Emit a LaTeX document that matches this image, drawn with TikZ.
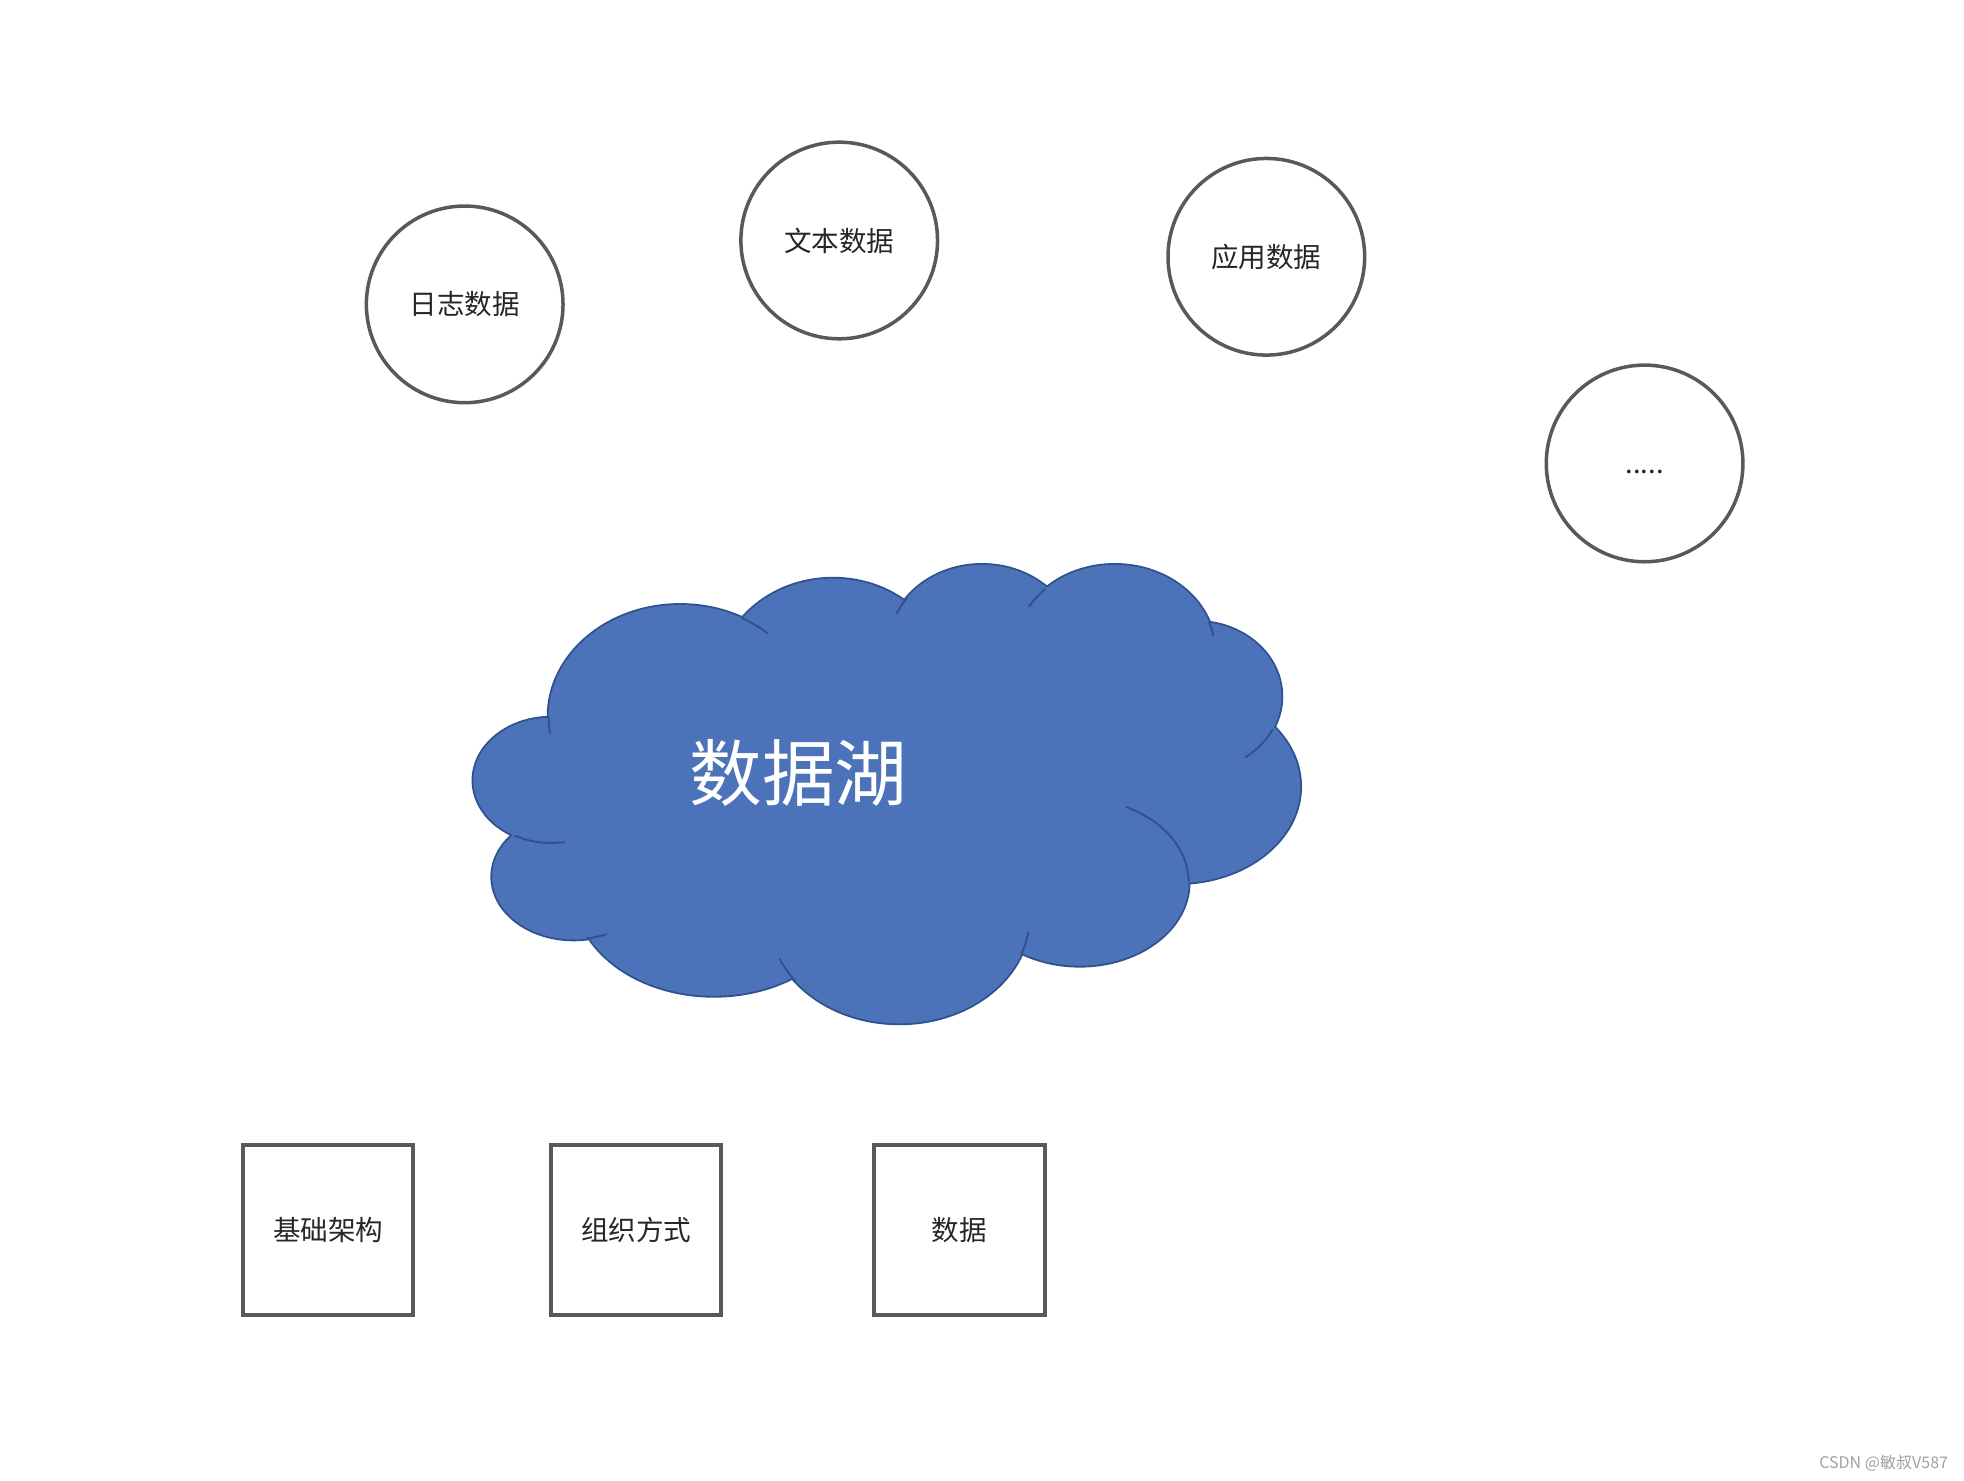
\documentclass[tikz,border=0pt]{standalone}
\usepackage{fontspec}
\setmainfont{Noto Sans CJK SC}
\usetikzlibrary{positioning}

\definecolor{lakeblue}{RGB}{76,114,186}
\definecolor{lakeline}{RGB}{47,82,143}
\definecolor{boxline}{RGB}{89,89,89}
\definecolor{labeltext}{RGB}{38,38,38}

\tikzset{every picture/.style={line width=0.75pt}}
\tikzset{
  source/.style={circle, draw=boxline, line width=1.4pt, minimum size=78.5pt, inner sep=0pt, text=labeltext, font=\fontsize{11}{13}\selectfont},
  part/.style={rectangle, draw=boxline, line width=1.6pt, minimum size=68pt, inner sep=0pt, text=labeltext, font=\fontsize{11}{13}\selectfont},
  cloudline/.style={draw=lakeline, line width=0.75pt},
}

\begin{document}
\begin{tikzpicture}[x=0.5pt,y=0.5pt,yscale=-1,xscale=1]
\useasboundingbox (0,0) rectangle (1568,1181.6);

%Shape: Cloud - lobes with outline
\foreach \cx/\cy/\rx/\ry in {543/572/105/89, 665/545/92/83, 784/515/74/64, 890/520/80/69, 955/556/68/59.5, 940/628/98/77, 862/704.5/87/66.5, 718/732/104/85, 570/712/111/83, 458/700/65/50, 440/623/62/50}
  \draw [cloudline, line width=1.5pt, fill=lakeblue] (\cx,\cy) ellipse [x radius=\rx, y radius=\ry];
%Shape: Cloud - fill over inner outlines
\foreach \cx/\cy/\rx/\ry in {543/572/105/89, 665/545/92/83, 784/515/74/64, 890/520/80/69, 955/556/68/59.5, 940/628/98/77, 862/704.5/87/66.5, 718/732/104/85, 570/712/111/83, 458/700/65/50, 440/623/62/50, 710/630/230/120}
  \fill [lakeblue] (\cx,\cy) ellipse [x radius=\rx, y radius=\ry];
%Shape: Cloud - inner arcs
\foreach \cx/\cy/\rx/\ry/\a/\b in {543/572/105/89/-62/-48, 543/572/105/89/180/171, 784/515/74/64/216/203, 890/520/80/69/226/211, 890/520/80/69/-20/-10, 955/556/68/59.5/26/55, 862/704.5/87/66.5/0/-65, 718/732/104/85/21/8, 718/732/104/85/143/157, 458/700/65/50/81/66, 440/623/62/50/118/80}
  \draw [cloudline] (\cx,\cy) ++({\a}:{\rx} and {\ry}) arc [start angle=\a, end angle=\b, x radius=\rx, y radius=\ry];

% Text Node
\node (lake) at (637.5,617) [text=white, font=\fontsize{29}{34}\selectfont] {数据湖};

% Sources
\node [source] (log) at (371,243) {日志数据};
\node [source] (text) at (670,192) {文本数据};
\node [source] (app) at (1011,205) {应用数据};
\node [source] (more) at (1313,370) {\vphantom{数}.....};

% Parts
\node [part] (infra) at (262,982) {基础架构};
\node [part] (org) at (508,982) {组织方式};
\node [part] (data) at (766,982) {数据};

% Watermark
\node (mark) at (1556,1168) [anchor=east, inner sep=0pt, text={rgb,255:red,160;green,160;blue,160}, font=\fontsize{6.4}{7.5}\selectfont] {CSDN @敏叔V587};

\end{tikzpicture}
\end{document}
